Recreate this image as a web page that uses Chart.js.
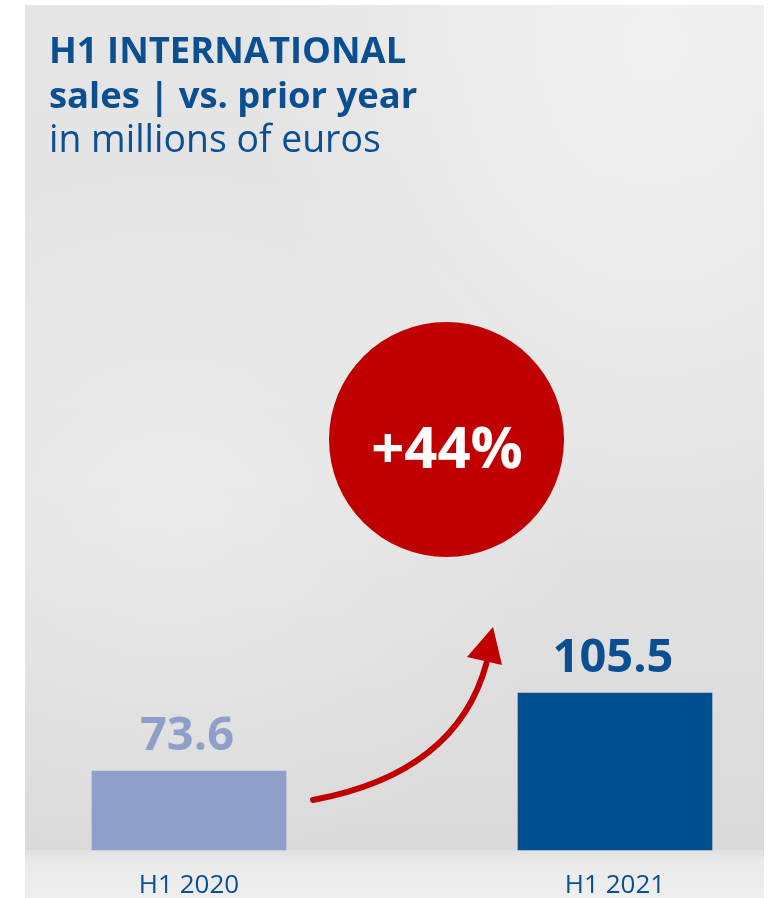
<!DOCTYPE html>
<html>
<head>
<meta charset="utf-8">
<script src="https://cdn.jsdelivr.net/npm/chart.js@4"></script>
<style>
  html, body { margin: 0; padding: 0; background: #fff; }
  .stage { position: relative; width: 769px; height: 898px; overflow: hidden; }
  .wall {
    position: absolute; left: 25px; top: 5px; width: 739px; height: 845px;
    background:
      radial-gradient(ellipse at 85% 5%, rgba(242,242,242,0.9), rgba(242,242,242,0) 45%),
      radial-gradient(ellipse at 20% 60%, rgba(255,255,255,0.3), rgba(255,255,255,0) 50%),
      linear-gradient(180deg, #e5e5e5 0%, #e3e3e3 55%, #dadada 100%);
  }
  .floor {
    position: absolute; left: 25px; top: 850px; width: 739px; height: 48px;
    background: linear-gradient(180deg, #e0e0e0 0%, #eaeaea 25%, #eeeeee 100%);
  }
  canvas { position: absolute; left: 0; top: 0; }
</style>
</head>
<body>
<div class="stage">
  <div class="wall"></div>
  <div class="floor"></div>
  <canvas id="chart" width="769" height="898"></canvas>
</div>
<script>
// data
const categories = ['H1 2020', 'H1 2021'];
const sales = [73.6, 105.5];
const barColors = ['#8e9fc9', '#00508f'];
const labelColors = ['#8e9fc9', '#0a4f92'];
const titleLines = ['H1 INTERNATIONAL', 'sales | vs. prior year'];
const subtitle = 'in millions of euros';
const changeLabel = '+44%';
const yMin = 41.3;
const yMax = 143.5;

const BLUE = '#0a4f92';
const RED = '#c00000';
const FONT = '"Open Sans", "Noto Sans", sans-serif';

// title, value labels, bubble and arrow
const decorPlugin = {
  id: 'decor',
  afterDatasetsDraw(chart) {
    const ctx = chart.ctx;
    const bars = chart.getDatasetMeta(0).data;
    const area = chart.chartArea;
    ctx.save();

    // title block
    ctx.fillStyle = BLUE;
    ctx.textAlign = 'left';
    ctx.textBaseline = 'alphabetic';
    ctx.font = 'bold 36.4px ' + FONT;
    titleLines.forEach((t, i) => ctx.fillText(t, 49, 63 + i * 45));
    ctx.font = '37.4px ' + FONT;
    ctx.fillText(subtitle, 49, 152);

    // value labels above bars
    ctx.textAlign = 'center';
    ctx.font = 'bold 47px ' + FONT;
    bars.forEach((b, i) => {
      ctx.fillStyle = labelColors[i];
      ctx.fillText(sales[i].toFixed(1), b.x - 2, b.y - 21);
    });

    // arrow from first bar towards second
    const b0 = bars[0], b1 = bars[1];
    const sx = b0.x + b0.width / 2 + 27, sy = area.bottom - 50;
    const tipX = b1.x - b1.width / 2 - 25, tipY = b1.y - 66;
    const baseX = tipX - 8.5, baseY = tipY + 34;
    ctx.strokeStyle = RED;
    ctx.lineWidth = 6;
    ctx.lineCap = 'round';
    ctx.beginPath();
    ctx.moveTo(sx, sy);
    ctx.quadraticCurveTo(sx + 144, sy - 27, baseX + 2, baseY + 2);
    ctx.stroke();
    ctx.fillStyle = RED;
    ctx.beginPath();
    ctx.moveTo(tipX, tipY);
    ctx.lineTo(tipX + 9, tipY + 38);
    ctx.lineTo(tipX - 26, tipY + 30);
    ctx.closePath();
    ctx.fill();

    // growth bubble
    const cx = (b0.x + b1.x) / 2 + 44.5, cy = 439.5;
    ctx.beginPath();
    ctx.arc(cx, cy, 117.5, 0, Math.PI * 2);
    ctx.fillStyle = RED;
    ctx.fill();
    ctx.fillStyle = '#ffffff';
    ctx.font = 'bold 58px ' + FONT;
    ctx.fillText(changeLabel, cx + 0.5, cy + 28);

    ctx.restore();
  }
};

new Chart(document.getElementById('chart'), {
  type: 'bar',
  data: {
    labels: categories,
    datasets: [{
      data: sales,
      backgroundColor: barColors,
      barThickness: 194,
      base: yMin,
      clip: false
    }]
  },
  options: {
    responsive: false,
    animation: false,
    devicePixelRatio: 1,
    layout: { padding: { left: 189, right: 154, top: 600, bottom: 0 } },
    plugins: { legend: { display: false }, tooltip: { enabled: false }, title: { display: false } },
    scales: {
      x: {
        offset: false,
        grid: { display: false },
        border: { display: false },
        ticks: { color: BLUE, font: { family: FONT, size: 26 }, padding: 12, maxRotation: 0 },
        afterFit(scale) { scale.height = 48; }
      },
      y: {
        display: false,
        beginAtZero: false,
        min: yMin,
        max: yMax
      }
    }
  },
  plugins: [decorPlugin]
});
</script>
</body>
</html>
